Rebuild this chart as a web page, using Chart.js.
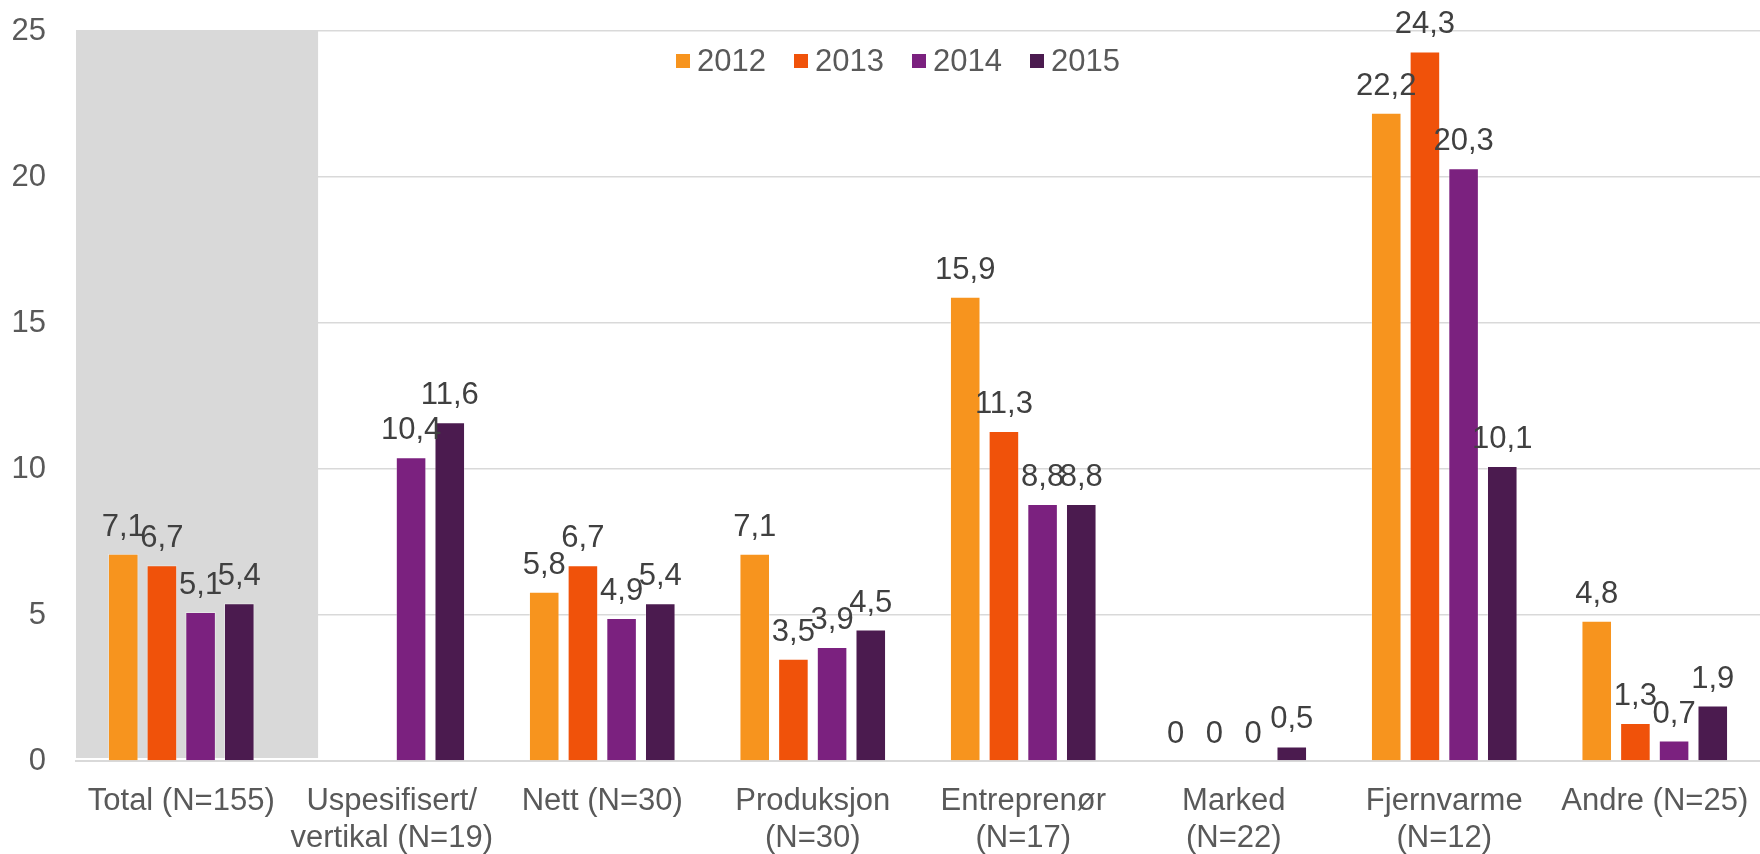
<!DOCTYPE html>
<html>
<head>
<meta charset="utf-8">
<script src="https://cdn.jsdelivr.net/npm/chart.js@4"></script>
<style>
  html, body { margin: 0; padding: 0; background: #fff; }
  #wrap { width: 1760px; height: 854px; position: relative; }
</style>
</head>
<body>
<div id="wrap"><canvas id="chart"></canvas></div>
<script>
// Chart data
const categories = [
    'Total (N=155)',
    ['Uspesifisert/', 'vertikal (N=19)'],
    'Nett (N=30)',
    ['Produksjon', '(N=30)'],
    ['Entreprenør', '(N=17)'],
    ['Marked', '(N=22)'],
    ['Fjernvarme', '(N=12)'],
    'Andre (N=25)'
];
const years = ['2012', '2013', '2014', '2015'];
const values2012 = [7.1, null, 5.8, 7.1, 15.9, 0, 22.2, 4.8];
const values2013 = [6.7, null, 6.7, 3.5, 11.3, 0, 24.3, 1.3];
const values2014 = [5.1, 10.4, 4.9, 3.9, 8.8, 0, 20.3, 0.7];
const values2015 = [5.4, 11.6, 5.4, 4.5, 8.8, 0.5, 10.1, 1.9];
const yTicks = [0, 5, 10, 15, 20, 25];

const colors = ['#F7941E', '#F0520A', '#7B217F', '#4B1B4F'];
const FONT = '"Liberation Sans", Arial, sans-serif';

function fmt(v) {
    return v === 0 ? '0' : v.toFixed(1).replace('.', ',');
}

// Grey highlight behind the "Total" group
const highlightPlugin = {
    id: 'highlight',
    beforeDatasetsDraw(chart) {
        const { ctx, chartArea, scales } = chart;
        const x0 = scales.x.getPixelForValue(0);
        const step = scales.x.getPixelForValue(1) - x0;
        ctx.save();
        ctx.fillStyle = '#D9D9D9';
        ctx.fillRect(chartArea.left, chartArea.top,
            x0 + step * 0.65 - chartArea.left,
            scales.y.getPixelForValue(0) - 3 - chartArea.top);
        ctx.restore();
    }
};

// Value labels above each bar
const valueLabels = {
    id: 'valueLabels',
    afterDatasetsDraw(chart) {
        const ctx = chart.ctx;
        ctx.save();
        ctx.font = '31px ' + FONT;
        ctx.fillStyle = '#404040';
        ctx.textAlign = 'center';
        ctx.textBaseline = 'alphabetic';
        chart.data.datasets.forEach((ds, i) => {
            const meta = chart.getDatasetMeta(i);
            meta.data.forEach((bar, j) => {
                const v = ds.data[j];
                if (v === null || v === undefined) return;
                ctx.fillText(fmt(v), bar.x, bar.y - 18);
            });
        });
        ctx.restore();
    }
};

// Legend drawn inside the plot area
const innerLegend = {
    id: 'innerLegend',
    afterDraw(chart) {
        const ctx = chart.ctx;
        ctx.save();
        ctx.font = '31px ' + FONT;
        ctx.textBaseline = 'middle';
        ctx.textAlign = 'left';
        let x = 676;
        const y = 61;
        chart.data.datasets.forEach(ds => {
            ctx.fillStyle = ds.backgroundColor;
            ctx.fillRect(x, y - 7, 14, 14);
            ctx.fillStyle = '#595959';
            ctx.fillText(ds.label, x + 21, y + 1);
            x += 118;
        });
        ctx.restore();
    }
};

const datasets = [values2012, values2013, values2014, values2015].map((vals, i) => ({
    label: years[i],
    data: vals,
    backgroundColor: colors[i],
    borderColor: 'rgba(255,255,255,0.35)',
    borderWidth: 1,
    categoryPercentage: 0.735,
    barPercentage: 0.79
}));

new Chart(document.getElementById('chart'), {
    type: 'bar',
    data: { labels: categories, datasets: datasets },
    options: {
        responsive: true,
        maintainAspectRatio: false,
        animation: false,
        layout: { padding: { top: 31, right: -5, left: 0, bottom: 0 } },
        plugins: {
            legend: { display: false },
            tooltip: { enabled: false }
        },
        scales: {
            x: {
                grid: { display: false },
                border: { display: true, color: '#D9D9D9', width: 2 },
                ticks: {
                    color: '#595959',
                    font: { family: FONT, size: 31, lineHeight: 1.2 },
                    padding: 14,
                    maxRotation: 0,
                    autoSkip: false
                },
                afterFit(scale) {
                    scale.height = 93;
                    scale.paddingLeft = 0;
                    scale.paddingRight = 0;
                }
            },
            y: {
                min: 0,
                max: 25,
                afterBuildTicks(scale) { scale.ticks = yTicks.map(v => ({ value: v })); },
                grid: { color: '#D9D9D9', lineWidth: 1.5, drawTicks: false },
                border: { display: false },
                ticks: {
                    color: '#595959',
                    font: { family: FONT, size: 31 },
                    padding: 30
                },
                afterFit(scale) {
                    scale.width = 76;
                    scale.paddingTop = 0;
                    scale.paddingBottom = 0;
                }
            }
        }
    },
    plugins: [highlightPlugin, valueLabels, innerLegend]
});
</script>
</body>
</html>
